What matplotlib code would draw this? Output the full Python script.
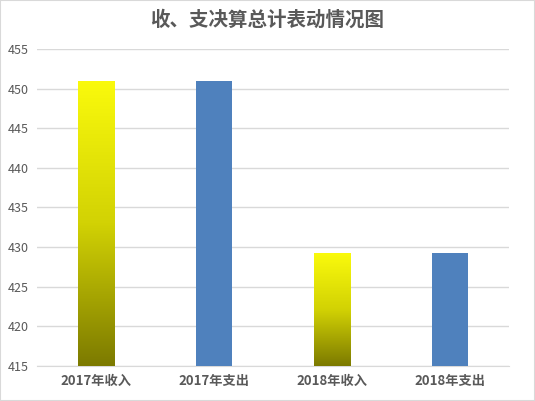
import numpy as np
import matplotlib
matplotlib.use("Agg")
import matplotlib.pyplot as plt
from matplotlib.colors import LinearSegmentedColormap
from matplotlib.patches import Rectangle

plt.rcParams["font.family"] = ["Noto Sans CJK SC", "DejaVu Sans"]

categories = ["2017年收入", "2017年支出", "2018年收入", "2018年支出"]
values = [451.0, 451.0, 429.2, 429.2]
gradient_bar = [True, False, True, False]
y_ticks = [415, 420, 425, 430, 435, 440, 445, 450, 455]
title = "收、支决算总计表动情况图"

BLUE = "#4F81BD"
GREY = "#595959"
yellow_cmap = LinearSegmentedColormap.from_list(
    "yl", [(0.0, "#7C7A00"), (0.5, "#D2D204"), (1.0, "#FAFA0C")])

fig = plt.figure(figsize=(5.35, 4.01), dpi=100)
fig.patches.append(Rectangle((0, 0), 1, 1, transform=fig.transFigure,
                             fill=False, edgecolor="#D9D9D9", linewidth=1.5))
ax = fig.add_axes([37 / 535, 35 / 401, 472 / 535, 317 / 401])

ymin, ymax = 415, 455
x = np.arange(len(categories))
width = 0.31
bars = ax.bar(x, np.array(values) - ymin, bottom=ymin, width=width,
              color=BLUE, zorder=3)

grad = np.linspace(0, 1, 256).reshape(-1, 1)
for bar, is_grad in zip(bars, gradient_bar):
    if not is_grad:
        continue
    bar.set_facecolor("none")
    x0, y0 = bar.get_x(), bar.get_y()
    x1, y1 = x0 + bar.get_width(), y0 + bar.get_height()
    im = ax.imshow(grad, cmap=yellow_cmap, origin="lower", aspect="auto",
                   extent=(x0, x1, y0, y1), zorder=3)
    im.set_clip_path(bar)

ax.set_xlim(-0.5, len(categories) - 0.5)
ax.set_ylim(ymin, ymax)
ax.set_yticks(y_ticks)
ax.set_xticks(x)
ax.set_xticklabels(categories, fontsize=9.5, fontweight="bold", color=GREY)
ax.tick_params(axis="y", labelsize=9, labelcolor=GREY, length=0, pad=6)
ax.tick_params(axis="x", length=0, pad=6)
ax.yaxis.grid(True, color="#D9D9D9", linewidth=1)
ax.set_axisbelow(True)
for side in ["top", "right", "left"]:
    ax.spines[side].set_visible(False)
ax.spines["bottom"].set_color("#D9D9D9")

fig.text(0.5, 1 - 20 / 401, title, ha="center", va="center",
         fontsize=14, fontweight="bold", color=GREY)

fig.savefig("out.png", dpi=100)
